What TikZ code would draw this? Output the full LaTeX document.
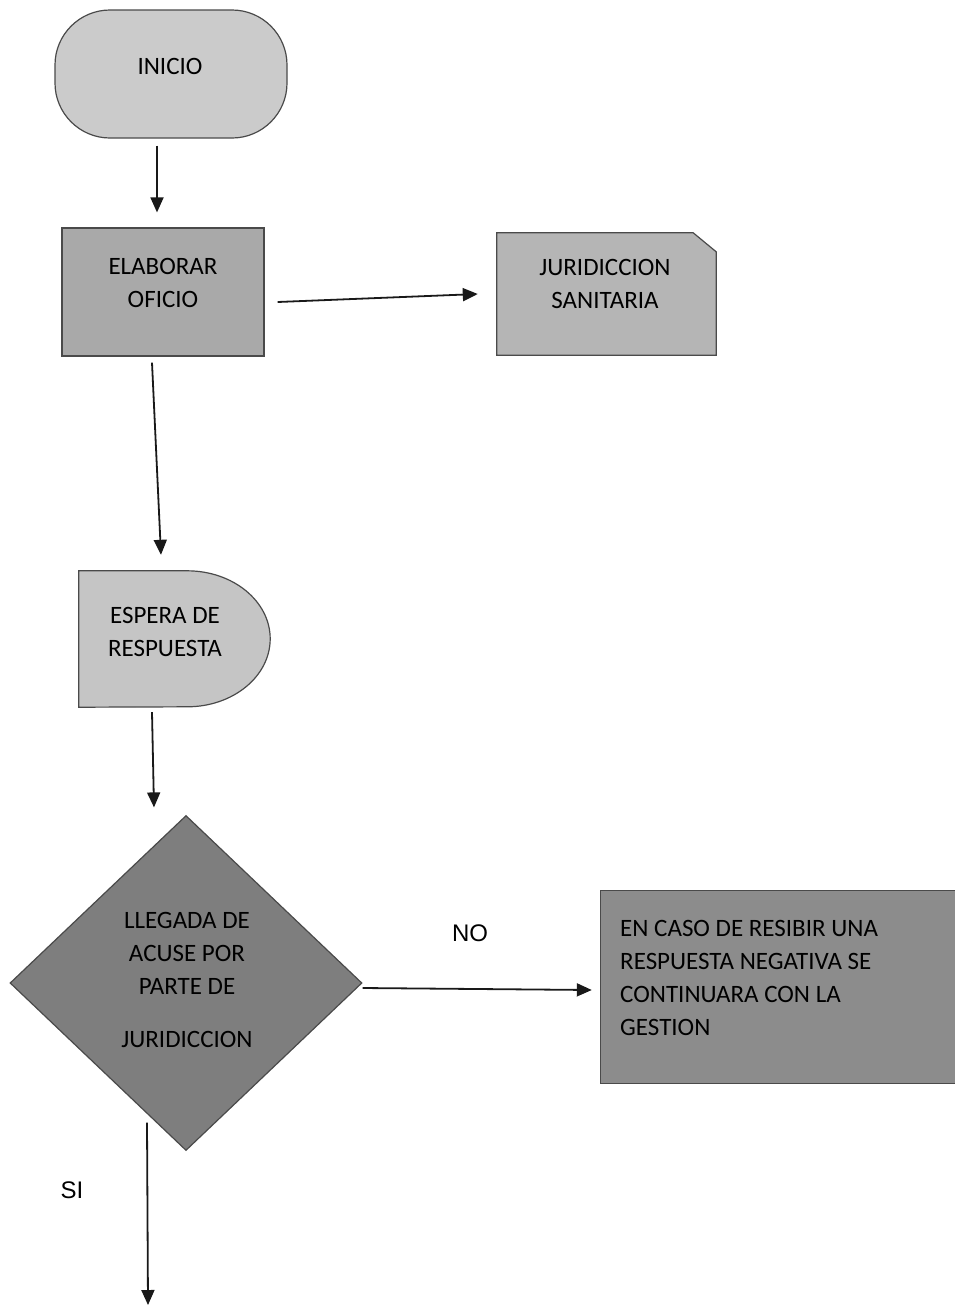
\documentclass[tikz,border=0pt]{standalone}
\usepackage{fontspec}
\setmainfont{Carlito}
\newfontfamily\arialf{Liberation Sans}
\usetikzlibrary{shapes.geometric,arrows.meta,backgrounds}
\definecolor{iniFill}{HTML}{CBCBCB}
\definecolor{elaFill}{HTML}{A9A9A9}
\definecolor{jurFill}{HTML}{B5B5B5}
\definecolor{espFill}{HTML}{C5C5C5}
\definecolor{diaFill}{HTML}{7E7E7E}
\definecolor{negFill}{HTML}{8C8C8C}
\definecolor{bordCol}{HTML}{4A4A4A}
\begin{document}
\begin{tikzpicture}[x=1pt,y=-1pt,
  lbl/.style={font=\fontsize{25}{33}\selectfont, align=center, text=black, inner sep=0pt},
  yesno/.style={font=\arialf\fontsize{24}{28}\selectfont, text=black, inner sep=0pt},
  arr/.style={-{Triangle[length=15pt,width=13pt]}, line width=1.8pt, black!90},
  bord/.style={draw=bordCol, line width=1.2pt},
  boxnode/.style={rectangle, draw=none, inner sep=0pt}]
\useasboundingbox (0,0) rectangle (955,1310);

% INICIO
\node[bord, rectangle, rounded corners=55pt, fill=iniFill, minimum width=232pt, minimum height=128pt, inner sep=0pt] (ini) at (171,74) {};
\node[lbl] (init) at (170,66) {INICIO};

% ELABORAR OFICIO
\node[bord, rectangle, fill=elaFill, minimum width=202pt, minimum height=128pt, inner sep=0pt] (ela) at (163,292) {};
\node[lbl] (elat) at (163,283) {ELABORAR\\OFICIO};

% JURIDICCION SANITARIA
\node[boxnode, minimum width=219pt, minimum height=122pt] (jur) at (606.5,294) {};
\begin{pgfonlayer}{background}
\filldraw[bord, fill=jurFill] (jur.south west) -- (jur.north west) -- ([xshift=-23pt]jur.north east) -- ([yshift=-19pt]jur.north east) -- (jur.south east) -- cycle;
\end{pgfonlayer}
\node[lbl] (jurt) at (605,284) {JURIDICCION\\SANITARIA};

% ESPERA DE RESPUESTA
\node[boxnode, minimum width=191pt, minimum height=136pt] (esp) at (174.5,639) {};
\begin{pgfonlayer}{background}
\filldraw[bord, fill=espFill] (esp.south west) -- (esp.north west) -- ([xshift=-83pt]esp.north east) arc[start angle=90, end angle=-90, x radius=83pt, y radius=68pt] -- cycle;
\end{pgfonlayer}
\node[lbl] (espt) at (165,632) {ESPERA DE\\RESPUESTA};

% Decision diamond
\node[bord, diamond, fill=diaFill, minimum width=352pt, minimum height=335pt, inner sep=0pt] (dia) at (186,983) {};
\node[lbl] (diat) at (187,980) {LLEGADA DE\\ACUSE POR\\PARTE DE\\[20pt]JURIDICCION};

% Negative response box (cut by the right edge)
\node[boxnode, minimum width=354pt, minimum height=192pt] (neg) at (778,987) {};
\begin{pgfonlayer}{background}
\fill[negFill] (neg.north west) rectangle (neg.south east);
\draw[bord] (neg.north east) -- (neg.north west) -- (neg.south west) -- (neg.south east);
\end{pgfonlayer}
\node[lbl, align=left, anchor=west] (negt) at (620,978) {EN CASO DE RESIBIR UNA\\RESPUESTA NEGATIVA SE\\CONTINUARA CON LA\\GESTION};

% Labels
\node[yesno] (nolbl) at (470,933) {NO};
\node[yesno] (silbl) at (72,1190) {SI};

% Connectors
\coordinate (endpt) at (148,1305);
\draw[arr] ([shift={(-14pt,-7pt)}]ini.south) -- ([shift={(-6pt,15pt)}]ela.north);
\draw[arr] ([shift={(13pt,-10pt)}]ela.east) -- ([shift={(-19pt,0pt)}]jur.west);
\draw[arr] ([shift={(-11pt,-6pt)}]ela.south) -- ([shift={(-13.5pt,16pt)}]esp.north);
\draw[arr] ([shift={(-22.5pt,-5pt)}]esp.south) -- ([shift={(-32pt,7.5pt)}]dia.north);
\draw[arr] ([shift={(0pt,-5pt)}]dia.east) -- ([shift={(-9pt,-3pt)}]neg.west);
\draw[arr] ([shift={(-39pt,28.5pt)}]dia.south) -- (endpt);
\end{tikzpicture}
\end{document}
